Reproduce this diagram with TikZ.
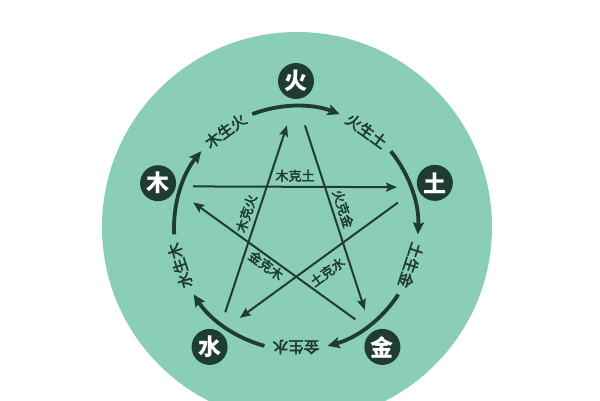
\documentclass[tikz,border=0pt]{standalone}
\usepackage{fontspec}
\newfontfamily\cjk{Noto Sans CJK SC}
\newfontfamily\cjkmid[FakeBold=3]{Noto Sans CJK SC}
\usepackage{tikz}
\usetikzlibrary{arrows.meta,positioning}
\definecolor{jade}{HTML}{8ACDB8}
\definecolor{ink}{HTML}{1E3C33}
\tikzset{
    element/.style={circle, fill=ink, text=white, minimum size=36pt, inner sep=0pt,
        font=\cjk\bfseries\fontsize{23}{23}\selectfont},
    gen/.style={draw=ink, line width=3.8pt, -{Stealth[length=12pt,width=11pt,inset=2pt]}},
    genlabel/.style={text=ink, inner sep=0pt, font=\cjkmid\fontsize{15.5}{15.5}\selectfont},
    ke/.style={draw=ink, line width=2pt, -{Stealth[length=11pt,width=9pt,inset=2pt]}},
    kelabel/.style={text=ink, inner sep=1pt, font=\cjkmid\fontsize{13}{13}\selectfont}
}

\begin{document}
\begin{tikzpicture}[x=1pt,y=1pt]
        \useasboundingbox (-296,-172) rectangle (304,228);
        \begin{scope}
        \clip (-296,-172) rectangle (304,228);
        \fill[white] (-296,-172) rectangle (304,228);
        \fill[jade] (1,1) circle[radius=195];
        \end{scope}
        \coordinate (o) at (0,0);
        % Five elements
        \node[element] (huo) at (90:147) {火};
        \node[element] (tu) at (18:146) {土};
        \node[element] (jin) at (-54:147) {金};
        \node[element] (shui) at (234:147) {水};
        \node[element] (mu) at (162:145) {木};
        % Outer ring
        \draw[gen] (111:122) arc[start angle=111, end angle=69, radius=122];
        \draw[gen] (39:122) arc[start angle=39, end angle=-3, radius=122];
        \draw[gen] (-33:122) arc[start angle=-33, end angle=-75, radius=122];
        \draw[gen] (255:122) arc[start angle=255, end angle=213, radius=122];
        \draw[gen] (183:122) arc[start angle=183, end angle=141, radius=122];
        \node[genlabel, rotate=36] (mushenghuo) at (126:120) {木生火};
        \node[genlabel, rotate=-36] (huoshengtu) at (54:120) {火生土};
        \node[genlabel, rotate=-108] (tushengjin) at (-18:121) {土生金};
        \node[genlabel, rotate=180] (jinshengshui) at (-90:119) {金生水};
        \node[genlabel, rotate=108] (shuishengmu) at (198:122) {水生木};
        % Star
        \coordinate (mutu-a) at (158:111);
        \coordinate (mutu-b) at (22:109);
        \coordinate (tushui-a) at (14:105);
        \coordinate (tushui-b) at (238:106);
        \coordinate (shuihuo-a) at (230:110);
        \coordinate (shuihuo-b) at (95:103);
        \coordinate (huojin-a) at (85:103);
        \coordinate (huojin-b) at (-50:107);
        \coordinate (jinmu-a) at (-57:109);
        \coordinate (jinmu-b) at (166:106);
        \draw[ke] (mutu-a) -- node[kelabel, above=3pt] (muketu) {木克土} (mutu-b);
        \draw[ke] (tushui-a) -- node[kelabel, sloped, below=6.5pt, pos=0.5] (tukeshui) {土克水} (tushui-b);
        \draw[ke] (shuihuo-a) -- node[kelabel, sloped, above=3pt, pos=0.51] (mukehuo) {木克火} (shuihuo-b);
        \draw[ke] (huojin-a) -- node[kelabel, sloped, above=2.5pt, pos=0.47] (huokejin) {火克金} (huojin-b);
        \draw[ke] (jinmu-a) -- node[kelabel, sloped, below=0.5pt, pos=0.52] (jinkemu) {金克木} (jinmu-b);
\end{tikzpicture}
\end{document}
